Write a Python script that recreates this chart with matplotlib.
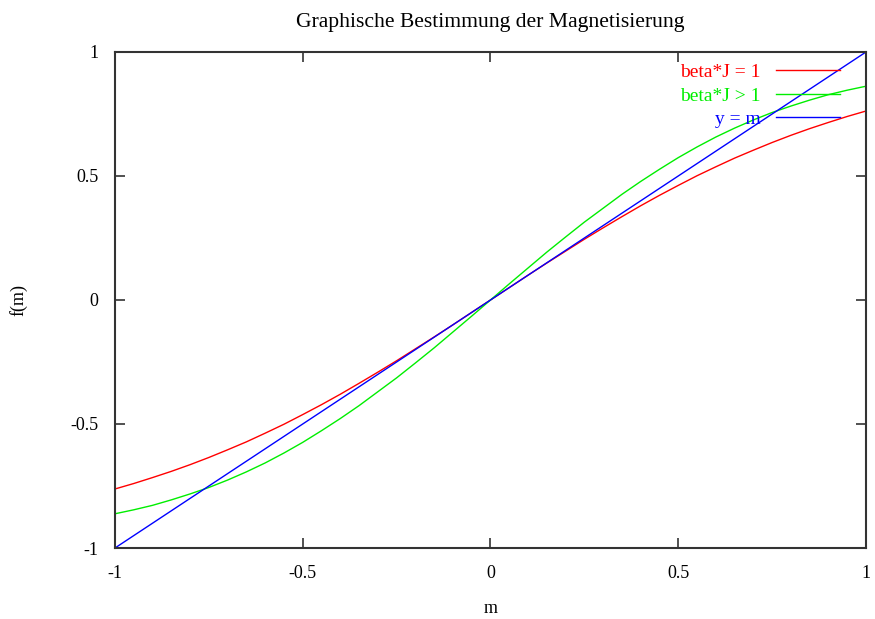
"""
Graphische Bestimmung der Magnetisierung: f(m) curves vs. y = m.
"""

import matplotlib
matplotlib.use("Agg")
import matplotlib.pyplot as plt

# m values and curve values
m = [-1.0, -0.95, -0.9, -0.85, -0.8, -0.75, -0.7, -0.65, -0.6, -0.55, -0.5,
     -0.45, -0.4, -0.35, -0.3, -0.25, -0.2, -0.15, -0.1, -0.05, 0.0,
     0.05, 0.1, 0.15, 0.2, 0.25, 0.3, 0.35, 0.4, 0.45, 0.5,
     0.55, 0.6, 0.65, 0.7, 0.75, 0.8, 0.85, 0.9, 0.95, 1.0]
f_red_pos = [0.0, 0.050, 0.100, 0.149, 0.197, 0.245, 0.291, 0.336, 0.380, 0.422, 0.462,
             0.501, 0.537, 0.572, 0.604, 0.635, 0.664, 0.691, 0.716, 0.740, 0.762]
f_green_pos = [0.0, 0.065, 0.129, 0.193, 0.254, 0.314, 0.370, 0.426, 0.478, 0.527, 0.574,
               0.617, 0.657, 0.693, 0.726, 0.756, 0.782, 0.806, 0.828, 0.846, 0.862]
f_red = [-v for v in f_red_pos[:0:-1]] + f_red_pos
f_green = [-v for v in f_green_pos[:0:-1]] + f_green_pos
line_x = [-1.0, 1.0]
line_y = [-1.0, 1.0]

ticks = [-1, -0.5, 0, 0.5, 1]
tick_labels = ["-1", "-0.5", "0", "0.5", "1"]

plt.rcParams['font.family'] = ['Liberation Serif', 'DejaVu Serif']
plt.rcParams['font.size'] = 13

fig = plt.figure(figsize=(8.75, 6.19), dpi=100)
ax = fig.add_axes([0.1314, 0.1147, 0.8583, 0.8013])

ax.plot(m, f_red, color='#ff0000', lw=1.0, label='beta*J = 1')
ax.plot(m, f_green, color='#00ee00', lw=1.0, label='beta*J > 1')
ax.plot(line_x, line_y, color='#0000ff', lw=1.0, label='y = m')

ax.set_xlim(-1, 1)
ax.set_ylim(-1, 1)
ax.set_xticks(ticks)
ax.set_xticklabels(tick_labels)
ax.set_yticks(ticks)
ax.set_yticklabels(tick_labels)
ax.tick_params(axis='x', direction='in', top=True, length=7, width=1.2,
               color='#333333', pad=12)
ax.tick_params(axis='y', direction='in', right=True, length=7, width=1.2,
               color='#333333', pad=12)
for spine in ax.spines.values():
    spine.set_linewidth(1.5)
    spine.set_color('#333333')

ax.set_xlabel('m')
ax.set_ylabel('f(m)')
ax.xaxis.set_label_coords(0.5, -0.105)
ax.yaxis.set_label_coords(-0.117, 0.5)
ax.set_title('Graphische Bestimmung der Magnetisierung', pad=18)

leg = ax.legend(loc='upper right', bbox_to_anchor=(0.983, 1.004), frameon=False,
                markerfirst=False, handlelength=3.25, handletextpad=0.8,
                labelspacing=0.3, borderpad=0.2, fontsize=14)
for text, line in zip(leg.get_texts(), leg.get_lines()):
    text.set_color(line.get_color())

plt.savefig("out.png", dpi=100)
